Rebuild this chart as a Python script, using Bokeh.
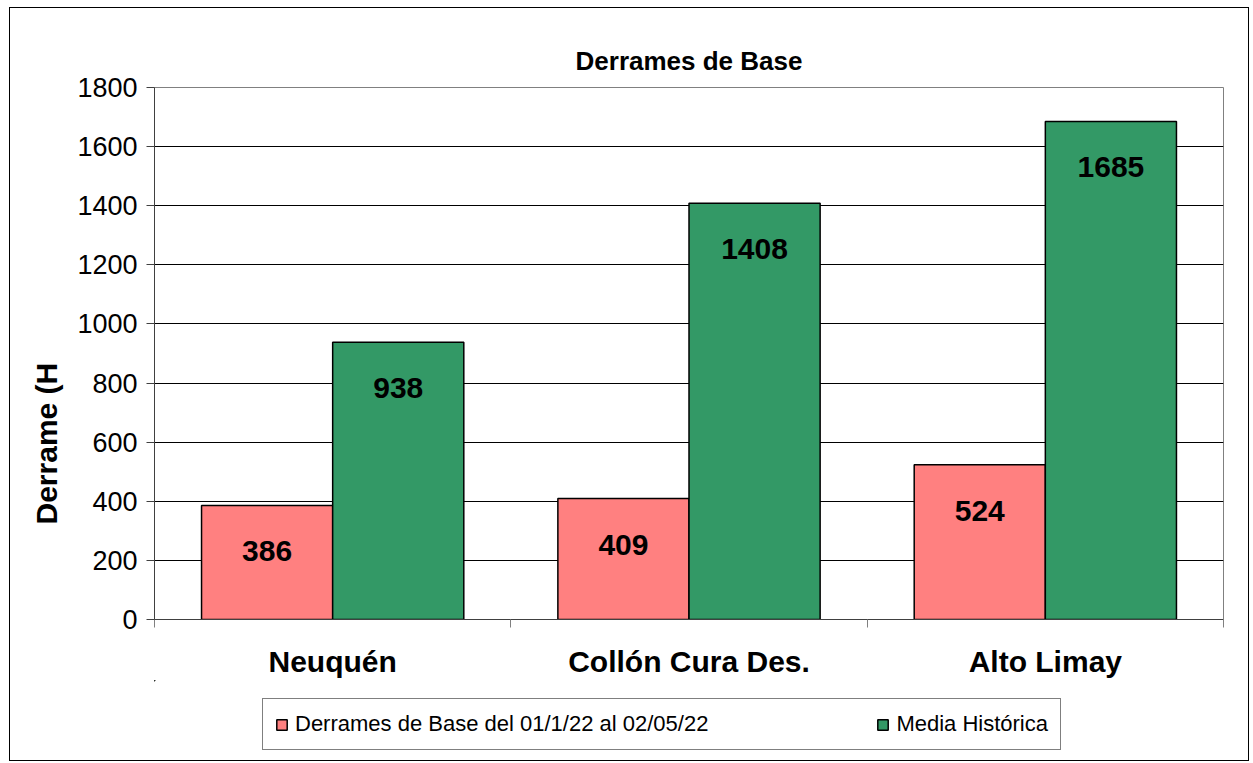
from bokeh.plotting import figure
from bokeh.layouts import column
from bokeh.models import (ColumnDataSource, Range1d, FixedTicker, LabelSet, Legend,
                          LegendItem, Title)
from bokeh.core.properties import value
from bokeh.embed import file_html
from bokeh.resources import INLINE

# ---- data ----
categories = ["Neuquén", "Collón Cura Des.", "Alto Limay"]
base_values = [386, 409, 524]
media_values = [938, 1408, 1685]
y_ticks = [0, 200, 400, 600, 800, 1000, 1200, 1400, 1600, 1800]
series_names = ["Derrames de Base del 01/1/22 al 02/05/22", "Media Histórica"]
title_text = "Derrames de Base"
y_label_text = "Derrame (H"

FONT = "Liberation Sans"
RED = "#FF8080"
GREEN = "#339966"

bar_w = 0.368
idx = list(range(len(categories)))
x_base = [i + 0.5 - bar_w / 2 for i in idx]
x_media = [i + 0.5 + bar_w / 2 for i in idx]

src_base = ColumnDataSource(dict(x=x_base, top=base_values, txt=[str(v) for v in base_values]))
src_media = ColumnDataSource(dict(x=x_media, top=media_values, txt=[str(v) for v in media_values]))

# ---------------- main chart ----------------
p = figure(width=1238, height=672, x_range=Range1d(0, len(categories)),
           y_range=Range1d(y_ticks[0], y_ticks[-1]),
           output_backend="svg", toolbar_location=None,
           min_border_left=144, min_border_right=25, min_border_top=79, min_border_bottom=58,
           title=title_text)
p.background_fill_color = "white"
p.border_fill_color = "white"
p.outline_line_color = "#808080"
p.outline_line_width = 1

p.title.align = "center"
p.title.text_font = FONT
p.title.text_font_size = "26px"
p.title.text_font_style = "bold"
p.title.text_color = "black"
p.title.standoff = 24

r1 = p.vbar(x="x", top="top", width=bar_w, bottom=0, source=src_base,
            fill_color=RED, line_color="black", line_width=1.5)
r2 = p.vbar(x="x", top="top", width=bar_w, bottom=0, source=src_media,
            fill_color=GREEN, line_color="black", line_width=1.5)

p.xgrid.grid_line_color = None
p.ygrid.ticker = FixedTicker(ticks=y_ticks)
p.ygrid.grid_line_color = "black"
p.ygrid.grid_line_width = 1
p.ygrid.level = "underlay"

p.yaxis.ticker = FixedTicker(ticks=y_ticks, minor_ticks=[])
p.yaxis.axis_line_color = "#404040"
p.yaxis.major_tick_line_color = "#404040"
p.yaxis.major_tick_out = 8
p.yaxis.major_tick_in = 0
p.yaxis.major_label_standoff = 9
p.yaxis.major_label_text_font = FONT
p.yaxis.major_label_text_font_size = "27px"
p.yaxis.major_label_text_color = "black"

centers = [i + 0.5 for i in idx]
bounds = list(range(len(categories) + 1))
p.xaxis.ticker = FixedTicker(ticks=centers, minor_ticks=bounds)
p.xaxis.major_label_overrides = {c: name for c, name in zip(centers, categories)}
p.xaxis.axis_line_color = "#404040"
p.xaxis.major_tick_line_color = None
p.xaxis.major_tick_out = 0
p.xaxis.major_tick_in = 0
p.xaxis.minor_tick_line_color = "#808080"
p.xaxis.minor_tick_out = 8
p.xaxis.minor_tick_in = 0
p.xaxis.major_label_standoff = 17
p.xaxis.major_label_text_font = FONT
p.xaxis.major_label_text_font_size = "30px"
p.xaxis.major_label_text_font_style = "bold"
p.xaxis.major_label_text_color = "black"

for src in (src_base, src_media):
    p.add_layout(LabelSet(x="x", y="top", text="txt", source=src, y_offset=-46,
                          text_align="center", text_baseline="middle",
                          text_font=value(FONT), text_font_size=value("30px"),
                          text_font_style=value("bold"), text_color=value("black")))

p.add_layout(Title(text=y_label_text, align="left", offset=95, standoff=23,
                   text_font=FONT, text_font_size="30px", text_font_style="bold",
                   text_color="black"), "left")

# ---------------- legend strip ----------------
# The strip shares the chart's data; its ranges lie far away from the bars,
# so the bars stay out of view and only the legend shows.
leg = figure(width=1238, height=80, x_range=Range1d(1000, 1003), y_range=Range1d(-20000, -19000),
             output_backend="svg", toolbar_location=None,
             x_axis_type=None, y_axis_type=None,
             min_border_left=0, min_border_right=0, min_border_top=0, min_border_bottom=0)
leg.outline_line_color = None
leg.grid.visible = False
leg.background_fill_color = "white"
leg.border_fill_color = "white"
k1 = leg.vbar(x="x", top="top", width=bar_w, bottom=0, source=src_base,
              fill_color=RED, line_color="black", line_width=1.5)
k2 = leg.vbar(x="x", top="top", width=bar_w, bottom=0, source=src_media,
              fill_color=GREEN, line_color="black", line_width=1.5)

legend = Legend(items=[LegendItem(label=series_names[0], renderers=[k1]),
                       LegendItem(label=series_names[1], renderers=[k2])],
                location=(108, 10), orientation="horizontal",
                padding=12, spacing=168, margin=0,
                glyph_width=13, glyph_height=13, label_standoff=7,
                label_text_font=FONT, label_text_font_size="22px",
                label_text_color="black",
                border_line_color="black", border_line_width=1,
                background_fill_color="white", background_fill_alpha=1)
leg.add_layout(legend, "center")

layout = column(p, leg, spacing=0)
layout.styles = {"border": "1px solid black", "margin-left": "9px", "margin-top": "7px"}

open("out.html", "w").write(file_html(layout, INLINE))
